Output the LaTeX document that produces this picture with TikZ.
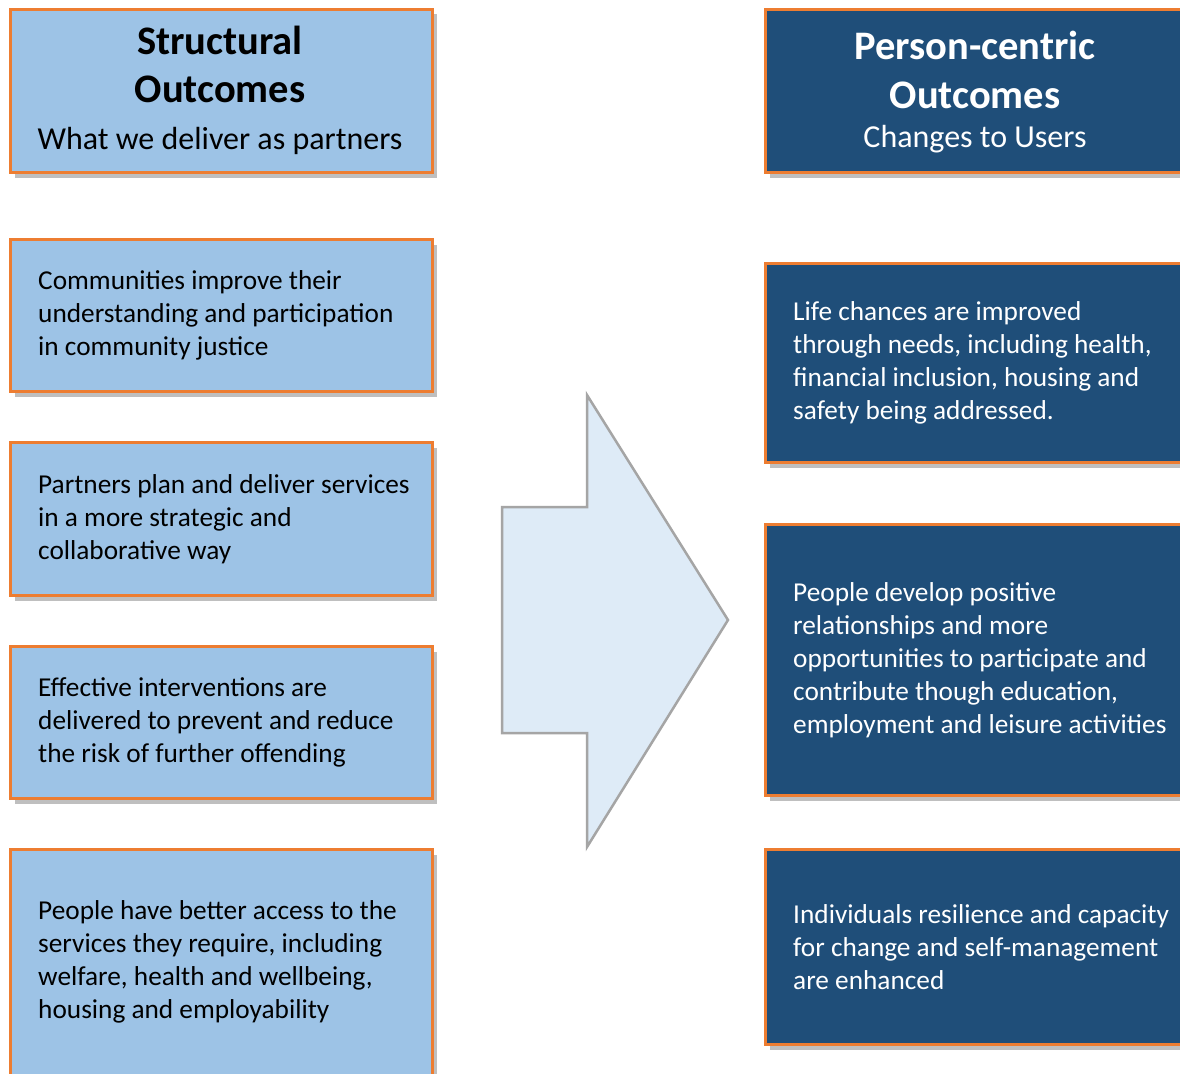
\documentclass[tikz,border=0pt]{standalone}
\usepackage{fontspec}
\setmainfont{Carlito}
\usetikzlibrary{shadows}
\definecolor{lblue}{HTML}{9DC3E6}
\definecolor{dblue}{HTML}{1F4E79}
\definecolor{orng}{HTML}{ED7D31}
\definecolor{afill}{HTML}{DEEBF7}
\definecolor{agray}{HTML}{A5A5A5}
\tikzset{
  boxbase/.style={draw=orng, line width=3pt, rectangle, anchor=north west, inner sep=0pt,
    drop shadow={shadow xshift=4pt, shadow yshift=-5pt, fill=black, opacity=0.25}},
  lbox/.style={boxbase, fill=lblue},
  rbox/.style={boxbase, fill=dblue},
  ltext/.style={anchor=west, align=left, inner sep=0pt, text=black, font=\fontsize{27.3}{33}\selectfont},
  rtext/.style={ltext, text=white},
  hbold/.style={inner sep=0pt, font=\fontsize{40.5}{48}\selectfont\bfseries},
  hsub/.style={inner sep=0pt, font=\fontsize{32}{38}\selectfont},
}
\begin{document}
\begin{tikzpicture}[x=1pt,y=-1pt]
\clip (0,0) rectangle (1180,1073);
\fill[white] (0,0) rectangle (1180,1073);
% boxes
\node[lbox, minimum width=422pt, minimum height=163pt] (hl) at (9,8) {};
\node[rbox, minimum width=422pt, minimum height=163pt] (hr) at (764,8) {};
\node[lbox, minimum width=422pt, minimum height=152pt] (l1) at (9,238) {};
\node[lbox, minimum width=422pt, minimum height=153pt] (l2) at (9,441) {};
\node[lbox, minimum width=422pt, minimum height=152pt] (l3) at (9,645) {};
\node[lbox, minimum width=422pt, minimum height=228pt] (l4) at (9,848) {};
\node[rbox, minimum width=422pt, minimum height=199pt] (r1) at (764,262) {};
\node[rbox, minimum width=422pt, minimum height=271pt] (r2) at (764,523) {};
\node[rbox, minimum width=422pt, minimum height=195pt] (r3) at (764,848) {};
% headers
\node[hbold] (hl1) at (220,40) {Structural};
\node[hbold] (hl2) at (220,89) {Outcomes};
\node[hsub] (hl3) at (220,141) {What we deliver as partners};
\node[hbold, text=white] (hr1) at (975,45) {Person-centric};
\node[hbold, text=white] (hr2) at (975,95) {Outcomes};
\node[hsub, text=white] (hr3) at (975,139) {Changes to Users};
% left texts
\node[ltext] (t1) at ([xshift=29pt]l1.west) {Communities improve their\\understanding and participation\\in community justice};
\node[ltext] (t2) at ([xshift=29pt]l2.west) {Partners plan and deliver services\\in a more strategic and\\collaborative way};
\node[ltext] (t3) at ([xshift=29pt]l3.west) {Effective interventions are\\delivered to prevent and reduce\\the risk of further offending};
\node[ltext] (t4) at (38,962) {People have better access to the\\services they require, including\\welfare, health and wellbeing,\\housing and employability};
% right texts
\node[rtext] (s1) at ([xshift=29pt]r1.west) {Life chances are improved\\through needs, including health,\\financial inclusion, housing and\\safety being addressed.};
\node[rtext] (s2) at ([xshift=29pt]r2.west) {People develop positive\\relationships and more\\opportunities to participate and\\contribute though education,\\employment and leisure activities};
\node[rtext] (s3) at ([xshift=29pt]r3.west) {Individuals resilience and capacity\\for change and self-management\\are enhanced};
% arrow
\coordinate (atop) at (587,395);
\coordinate (atip) at (728,620);
\coordinate (abot) at (587,847);
\draw[fill=afill, draw=agray, line width=2.5pt, line join=miter]
  (atop) -- (atip) -- (abot) -- (587,733) -- (502,733) -- (502,507) -- (587,507) -- cycle;
\end{tikzpicture}
\end{document}
